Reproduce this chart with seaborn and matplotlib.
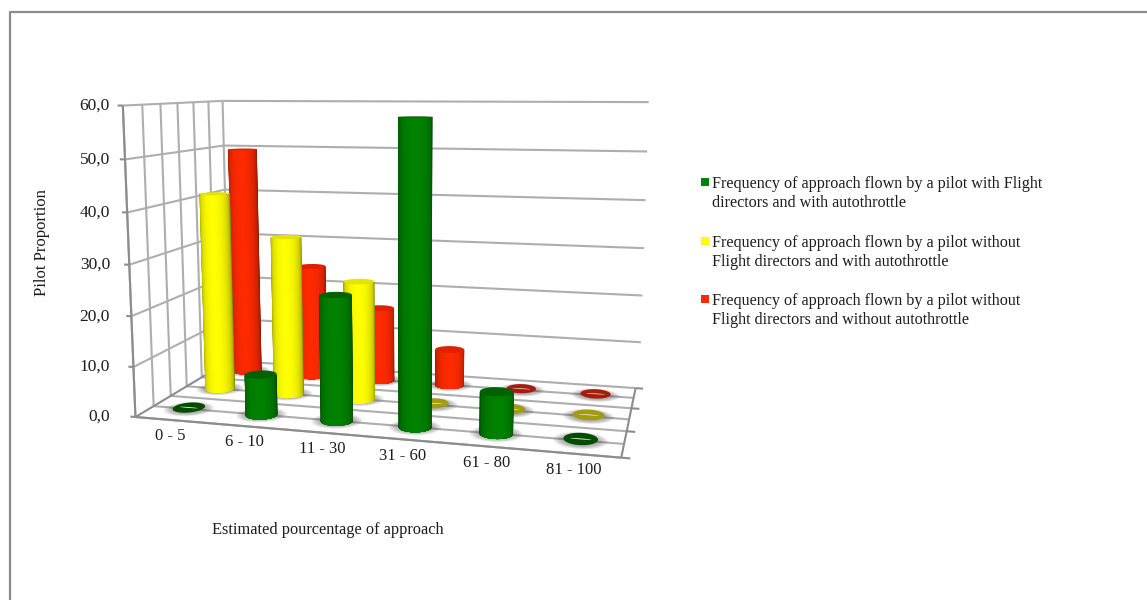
import numpy as np
import matplotlib
matplotlib.use('Agg')
import matplotlib.pyplot as plt
import seaborn as sns
from matplotlib.lines import Line2D
from matplotlib.patches import Rectangle
from mpl_toolkits.mplot3d import proj3d
from mpl_toolkits.mplot3d.art3d import Poly3DCollection

# ── Data ─────────────────────────────────────────────────────────────────────
categories = ['0 - 5', '6 - 10', '11 - 30', '31 - 60', '61 - 80', '81 - 100']
with_fd_with_at = [0.3, 8.1, 24.6, 58.0, 8.0, 0.3]
no_fd_with_at = [41.5, 33.0, 24.5, 0.3, 0.3, 0.3]
no_fd_no_at = [49.7, 24.5, 16.0, 7.8, 0.3, 0.3]
y_ticks = [0, 10, 20, 30, 40, 50, 60]
legend_labels = ['Frequency of approach flown by a pilot with Flight\ndirectors and with autothrottle',
                 'Frequency of approach flown by a pilot without\nFlight directors and with autothrottle',
                 'Frequency of approach flown by a pilot without\nFlight directors and without autothrottle']

# ── Style ────────────────────────────────────────────────────────────────────
sns.set_theme(style='white')
plt.rcParams['font.family'] = ['Liberation Serif', 'DejaVu Serif']
palette = sns.color_palette(['#008200', '#ffff00', '#ff2a00'])
caps = ['#006200', '#e4e400', '#dc2200']
disc_dark = ['#004c00', '#a49c10', '#a81c10']
grid_col = '#aeaeae'
axis_col = '#8c8c8c'
text_col = '#1c1c1c'

W, H = 1147, 600
fig = plt.figure(figsize=(W / 100, H / 100), dpi=100, facecolor='white')

# ── Axes: view fitted to the box corners of the picture ──────────────────────
ax = fig.add_axes([0, 0, 1, 1], projection='3d')
ax.set_xlim(0, 6)
ax.set_ylim(0, 3)
ax.set_zlim(0, 60)
elev, azim = 9.0195, -74.8966
ax.view_init(elev=elev, azim=azim, roll=0.1397)
ax.set_proj_type('persp', focal_length=0.3530)
ax.set_box_aspect((1, 0.4888, 0.6468))
ax.set_axis_off()
ax.computed_zorder = False
ax.patch.set_alpha(0)

ax.apply_aspect()
pos = ax.get_position()
side0 = pos.width * W
cx0 = (pos.x0 + pos.width / 2) * W
cy0 = (pos.y0 + pos.height / 2) * H
o, e = ax.transData.transform([[0, 0], [0.1, 0]])
k = 3151.97 / ((e[0] - o[0]) / 0.1)
cx = 395.89 - k * (o[0] - cx0)
cy = (H - 256.02) - k * (o[1] - cy0)
side = side0 * k
ax.set_position([(cx - side / 2) / W, (cy - side / 2) / H, side / W, side / H])
ax.apply_aspect()


def to_px(x, y, z):
    u, v, _ = proj3d.proj_transform(x, y, z, ax.get_proj())
    return ax.transData.transform((u, v))


def line(xs, ys, zs, color=grid_col, lw=1.5, z=1):
    ax.plot(xs, ys, zs, color=color, lw=lw, zorder=z, solid_capstyle='butt')


# ── Walls and floor ──────────────────────────────────────────────────────────
for val in y_ticks[1:]:
    line([0, 6.05], [3, 3], [val, val])
    line([0, 0], [0, 3], [val, val])
for d in np.arange(0, 3.5, 0.5):
    line([0, 0], [d, d], [0, 60])
    line([0, 6], [d, d], [0, 0])
line([0, 6], [0, 0], [0, 0], color=axis_col, z=1.1)
line([0, 0], [0, 3], [0, 0], color=axis_col, z=1.1)
line([6, 6], [0, 3], [0, 0], color=axis_col, z=1.1)
line([0, 0], [0, 0], [0, 60], color=axis_col, z=1.1)
for d in range(4):
    line([6, 6.1], [d, d], [0, 0], color=axis_col, z=1.1)
for val in y_ticks:
    line([-0.07, 0], [0, 0], [val, val], color=axis_col, z=1.1)


# ── Cylinders ────────────────────────────────────────────────────────────────
def ellipse(cx_, cy_, rx, ry, zval, n=48):
    t = np.linspace(0, 2 * np.pi, n)
    return np.column_stack([cx_ + rx * np.cos(t), cy_ + ry * np.sin(t), np.full(n, zval)])


def add_poly(verts, color, order):
    poly = Poly3DCollection([verts], facecolor=color, edgecolor='none', zorder=order)
    poly.set_snap(False)
    ax.add_collection3d(poly)


def cylinder(cx_, cy_, height, base, cap, dark, order):
    rx = 0.2
    ry = rx * (1 / 6) / (0.4888 / 3)
    # soft shadow on the floor
    for f in np.linspace(1.6, 1.05, 7):
        add_poly(ellipse(cx_, cy_, rx * f, ry * f, 0.02), (0.25, 0.25, 0.25, 0.07), order)
    if height < 1:
        add_poly(ellipse(cx_, cy_, rx, ry * 1.15, height), dark, order + 0.1)
        add_poly(ellipse(cx_, cy_, rx * 0.62, ry * 0.09, height), '#e8e8d8', order + 0.2)
        return
    # nested bands from the silhouette inwards, so no seams show between facets
    face = np.radians(azim)
    for n, half in enumerate(np.linspace(97, 5, 24)):
        t = np.linspace(face - np.radians(half), face + np.radians(half), 41)
        low = np.column_stack([cx_ + rx * np.cos(t), cy_ + ry * np.sin(t), np.zeros_like(t)])
        high = np.column_stack([low[::-1, 0], low[::-1, 1], np.full_like(t, height)])
        shade = 0.5 + 0.5 * max(np.cos(np.radians(half)), 0) ** 0.6
        add_poly(np.vstack([low, high]), np.array(base) * shade, order + 0.1 + n * 0.001)
    add_poly(ellipse(cx_, cy_, rx, ry, height), cap, order + 0.2)


series = [with_fd_with_at, no_fd_with_at, no_fd_no_at]
for row in (2, 1, 0):
    for i, val in enumerate(series[row]):
        cylinder(i + 0.5, row + 0.5, val, palette[row], caps[row], disc_dark[row], 2 + (2 - row) + i * 0.01)

# ── Text ─────────────────────────────────────────────────────────────────────
for val in y_ticks:
    fig.text(110 / W, to_px(0, 0, val)[1] / H, f'{val:.1f}'.replace('.', ','), ha='right', va='center',
             fontsize=12.5, color=text_col)
for i, cat in enumerate(categories):
    px, py = to_px(i + 0.5, 0, 0)
    fig.text((px - 2) / W, (py - 16) / H, cat, ha='center', va='center', fontsize=12, color=text_col)
fig.text(42 / W, 1 - 243 / H, 'Pilot Proportion', rotation=90, ha='center', va='center', fontsize=12,
         color=text_col)
fig.text(328 / W, 1 - 530 / H, 'Estimated pourcentage of approach', ha='center', va='center', fontsize=11.8,
         color=text_col)

# ── Legend ───────────────────────────────────────────────────────────────────
for lab, col, sq_y, txt_y in zip(legend_labels, palette, [182, 241, 299], [193.5, 252.5, 310.5]):
    fig.add_artist(Rectangle((701 / W, 1 - (sq_y + 4) / H), 8 / W, 8 / H, transform=fig.transFigure,
                             facecolor=col, edgecolor='none'))
    fig.text(712 / W, 1 - txt_y / H, lab, ha='left', va='center', fontsize=11.6, linespacing=1.3,
             color=text_col)

# ── Frame of the pasted picture ──────────────────────────────────────────────
fig.add_artist(Line2D([9.5 / W, 9.5 / W, 1], [0, 1 - 11.5 / H, 1 - 11.5 / H], transform=fig.transFigure,
                      color=axis_col, lw=1.6))

fig.savefig('out.png', dpi=100, facecolor='white')
